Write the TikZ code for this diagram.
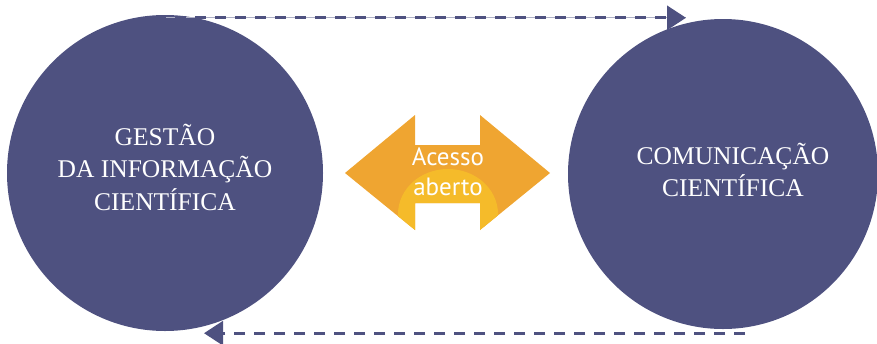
\documentclass[tikz,border=0pt]{standalone}
\usepackage{fontspec}
\setmainfont{Liberation Serif}
\newfontfamily\oafont{PT Sans}
\usepackage{tikz}
\usetikzlibrary{arrows.meta, calc}
\definecolor{CircBlue}{RGB}{78, 81, 128}
\definecolor{ArrOrange}{RGB}{239, 165, 49}
\definecolor{ArrYellow}{RGB}{245, 187, 42}

\begin{document}
\begin{tikzpicture}[x=1pt, y=-1pt,
  circ/.style={circle, fill=CircBlue, inner sep=0pt},
  circtext/.style={align=center, inner sep=0pt,
    font=\fontsize{25.5}{32.5}\selectfont\color{white}},
  oatext/.style={align=center, inner sep=0pt,
    font=\oafont\fontsize{25}{30}\selectfont\color{white}},
  dasharr/.style={-{Triangle[length=19pt, width=24pt]}, CircBlue,
    line width=3pt, dash pattern=on 11pt off 9pt}
]
\useasboundingbox (0,0) rectangle (877,343);

% Circles
\node[circ, minimum size=316pt] (gic) at (165,173) {};
\node[circ, minimum size=310pt] (com) at (723,174) {};
\node[circtext] (gictext) at ([yshift=6pt]gic.center)
  {GESTÃO\\DA INFORMAÇÃO\\CIENTÍFICA};
\node[circtext] (comtext) at ([xshift=10pt, yshift=4pt]com.center)
  {COMUNICAÇÃO\\CIENTÍFICA};

% Double arrow in the middle
\fill[ArrOrange] (345,173) -- (415,115) -- (415,145) -- (480,145) -- (480,115)
  -- (550,173) -- (480,230) -- (480,203) -- (415,203) -- (415,230) -- cycle;
\begin{scope}
  \clip (345,173) -- (415,115) -- (415,145) -- (480,145) -- (480,115)
    -- (550,173) -- (480,230) -- (480,203) -- (415,203) -- (415,230) -- cycle;
  \fill[ArrYellow] (448,214) ellipse [x radius=50, y radius=45];
\end{scope}
\node[oatext] (oa) at (448,172) {Acesso\\aberto};

% Dashed arrows between the circles
\draw[dasharr, preaction={draw, CircBlue!45, line width=1pt, solid, -}]
  ($(gic.north)+(-10,3)$) -- ($(gic.north -| com.north)+(-37,3)$);
\draw[dasharr] ($(com.south)+(22,4)$) -- ($(gic.south)+(39,2)$);
\end{tikzpicture}
\end{document}
